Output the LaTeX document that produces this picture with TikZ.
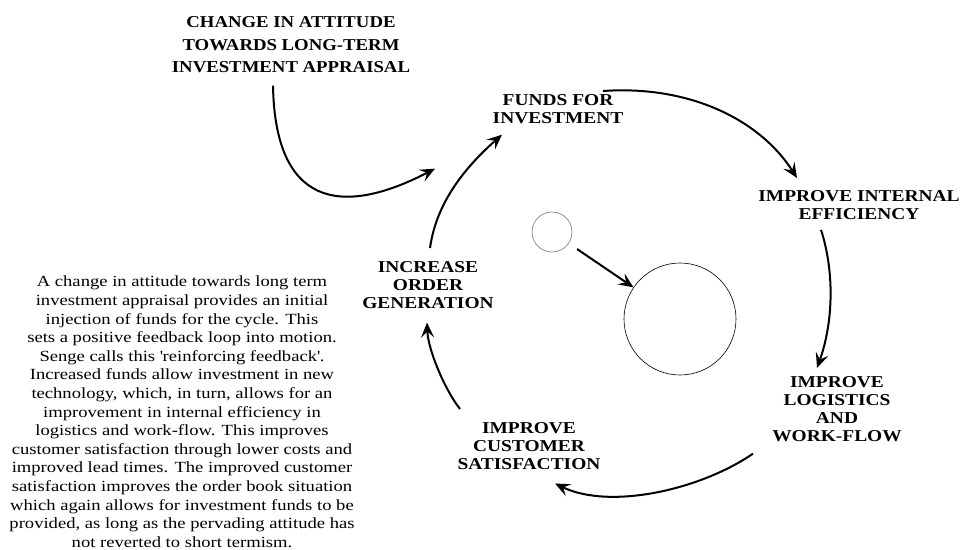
\documentclass[tikz,border=0pt]{standalone}
\usepackage{fontspec}
\setmainfont{Liberation Serif}
\newfontfamily\labfont[FakeStretch=1.17]{Liberation Serif}
\newfontfamily\headfont[FakeStretch=1.13]{Liberation Serif}
\newfontfamily\bodyfont[FakeStretch=1.2]{Liberation Serif}
\usetikzlibrary{arrows.meta,calc}
\tikzset{
  lab/.style={align=center, inner sep=0pt, anchor=north,
    font=\labfont\bfseries\fontsize{16.6}{18}\selectfont},
  headlab/.style={align=center, inner sep=0pt, anchor=north,
    font=\headfont\bfseries\fontsize{16.6}{22.5}\selectfont},
  bodytext/.style={align=center, inner sep=0pt, anchor=north,
    font=\bodyfont\fontsize{15.5}{18.6}\selectfont},
  flow/.style={line width=2pt, -{Stealth[length=15pt,width=13pt,inset=6pt]}},
  ring/.style={circle, draw, inner sep=0pt, line width=0.6pt}
}
\begin{document}
\begin{tikzpicture}[x=1pt,y=-1pt]
\path[use as bounding box] (0,0) rectangle (963,549);

\node[headlab] (chg) at (291,16.5) {CHANGE IN ATTITUDE\\TOWARDS LONG-TERM\\INVESTMENT APPRAISAL};
\node[lab] (funds) at (558,94.5) {FUNDS FOR\\INVESTMENT};
\node[lab] (intl) at (859,190.7) {IMPROVE INTERNAL\\EFFICIENCY};
\node[lab] (logi) at (837,376.5) {IMPROVE\\LOGISTICS\\AND\\WORK-FLOW};
\node[lab] (cust) at (529,422.5) {IMPROVE\\CUSTOMER\\SATISFACTION};
\node[lab] (inc) at (428,261.5) {INCREASE\\ORDER\\GENERATION};

\node[bodytext] (desc) at (182,276) {A change in attitude towards long term\\
investment appraisal provides an initial\\
injection of funds for the cycle. This\\
sets a positive feedback loop into motion.\\
Senge calls this \textquotesingle reinforcing feedback\textquotesingle.\\
Increased funds allow investment in new\\
technology, which, in turn, allows for an\\
improvement in internal efficiency in\\
logistics and work-flow. This improves\\
customer satisfaction through lower costs and\\
improved lead times. The improved customer\\
satisfaction improves the order book situation\\
which again allows for investment funds to be\\
provided, as long as the pervading attitude has\\
not reverted to short termism.};

\node[ring, draw=black!55, minimum size=40pt] (small) at (552,232) {};
\node[ring, minimum size=112pt] (big) at (680,319) {};

\coordinate (inject) at ($(funds.south)+(-123,44.5)$);

\draw[flow] ($(chg.south)+(-18,12.5)$) .. controls (275,205) and (340,218) .. (inject);
\draw[flow] ($(inc.north)+(2,-13.5)$) .. controls (436,205) and (462,170) .. ($(funds.south)+(-56,10.5)$);
\draw[flow] ($(funds.north)+(45,-3.5)$) .. controls (690,85) and (760,120) .. ($(intl.north)+(-62,-12.7)$);
\draw[flow] ($(intl.south)+(-38,9.6)$) .. controls (834,270) and (834,320) .. ($(logi.north)+(-20,-8.5)$);
\draw[flow] ($(logi.south)+(-84,11.5)$) .. controls (700,490) and (610,510) .. ($(cust.south)+(26,13.5)$);
\draw[flow] ($(cust.north)+(-69,-13.5)$) .. controls (445,390) and (428,350) .. ($(inc.south)+(-1,13.5)$);
\draw[flow, shorten <=10pt] (small) -- (big);
\end{tikzpicture}
\end{document}
